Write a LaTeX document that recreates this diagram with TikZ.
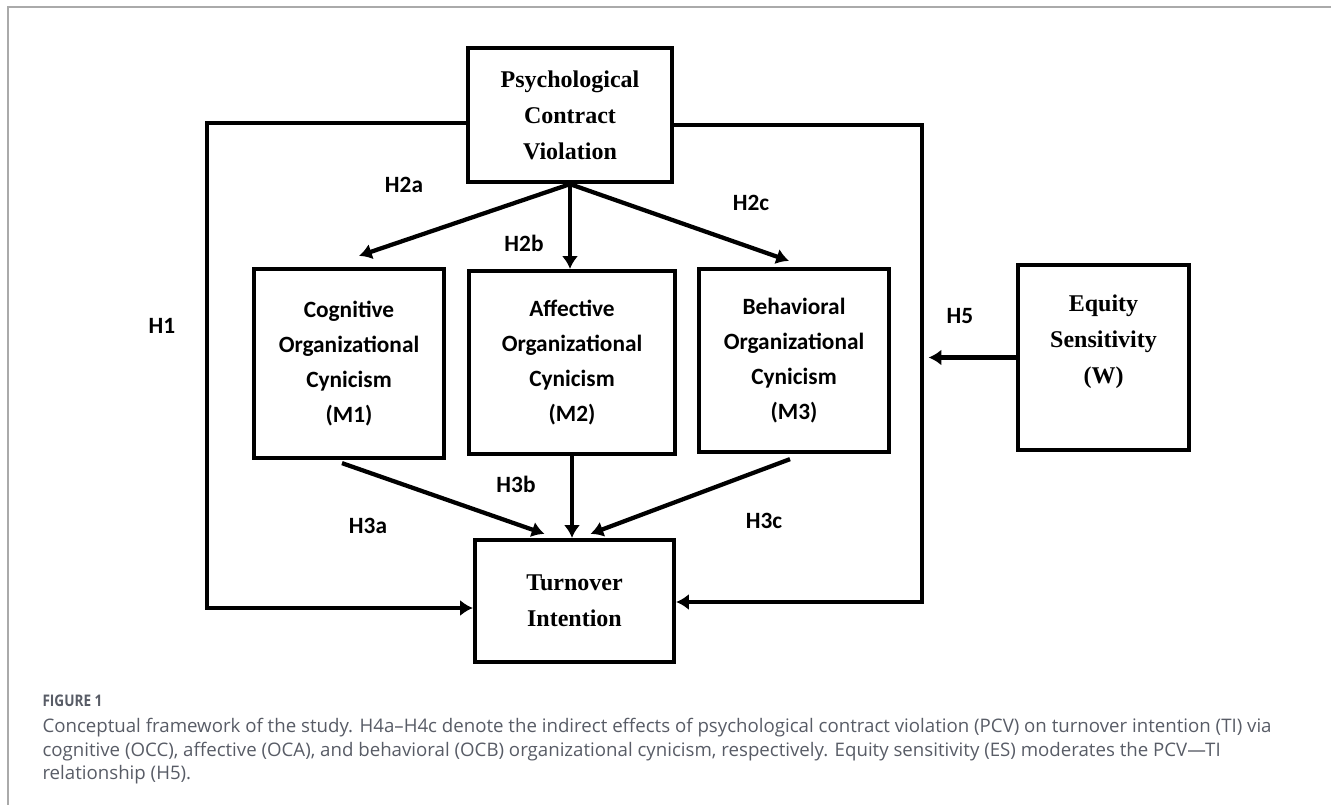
\documentclass[tikz,border=0pt]{standalone}
\usepackage{fontspec}
\setmainfont{Liberation Serif}
\newfontfamily\calfont{Carlito}
\newfontfamily\capfont{Open Sans}
\newfontfamily\figfont[FakeStretch=0.85]{Open Sans}
\usetikzlibrary{arrows.meta,calc}
\definecolor{framegray}{RGB}{170,170,170}
\definecolor{capgray}{RGB}{88,92,102}

\tikzset{every picture/.style={line width=0.75pt}}
\tikzset{
  serifbox/.style={draw, line width=3.2pt, align=center, inner sep=0pt, font=\bfseries\fontsize{18}{27}\selectfont},
  cynbox/.style={draw, line width=3.2pt, align=center, inner sep=0pt, font=\calfont\bfseries\fontsize{17.5}{26.25}\selectfont},
  hyp/.style={font=\calfont\bfseries\fontsize{17.5}{21}\selectfont, inner sep=0.75pt},
  arr/.style={line width=3.2pt, -{Latex[length=9.5pt,width=12pt]}},
  link/.style={line width=3.2pt}
}

\begin{document}
\begin{tikzpicture}[x=0.75pt,y=0.75pt,yscale=-1,xscale=1]
\useasboundingbox (0,0) rectangle (1331,805);

%Shape: Frame
\draw [framegray, line width=1.5pt] (8,7) rectangle (1345,820);

%Shape: Rectangle
\node [serifbox, minimum width=153pt, minimum height=100.5pt] (pcv) at (570,115) {Psychological\\Contract\\Violation};
%Shape: Rectangle
\node [cynbox, minimum width=142.5pt, minimum height=141.75pt] (m1) at (349,363.5) {Cognitive\\Organizational\\Cynicism\\(M1)};
%Shape: Rectangle
\node [cynbox, minimum width=154.5pt, minimum height=137.25pt] (m2) at (572,362.5) {Affective\\Organizational\\Cynicism\\(M2)};
%Shape: Rectangle
\node [cynbox, minimum width=142.5pt, minimum height=137.25pt] (m3) at (794,360.5) {Behavioral\\Organizational\\Cynicism\\(M3)};
%Shape: Rectangle
\node [serifbox, minimum width=149.25pt, minimum height=91.5pt] (ti) at (574.5,601) {Turnover\\Intention};
%Shape: Rectangle
\node [serifbox, minimum width=128.25pt, minimum height=138.75pt] (es) at (1103.5,357.5) {Equity\\Sensitivity\\(W)\\\mbox{}};

%Straight Lines
\draw [arr] (pcv.south) -- ($(m1.north)+(10,-11)$) ;
\draw [arr] (pcv.south) -- (pcv.south |- m2.north) ;
\draw [arr] (pcv.south) -- ($(m3.north)+(-5,-6)$) ;
%Straight Lines
\draw [arr] ($(m1.south)+(-7,3)$) -- ($(ti.north)+(-30,-4)$) ;
\draw [arr] (m2.south) -- (m2.south |- ti.north) ;
\draw [arr] ($(m3.south)+(-4,5)$) -- ($(ti.north)+(16,-4)$) ;

%Straight Lines
\coordinate (h1top) at (207,123);
\coordinate (h1bot) at (207,608);
\draw [arr] (pcv.west |- h1top) -- (h1top) -- (h1bot) -- (ti.west |- h1bot) ;
%Straight Lines
\coordinate (h5top) at (922,125);
\coordinate (h5bot) at (922,602);
\draw [arr] (pcv.east |- h5top) -- (h5top) -- (h5bot) -- (ti.east |- h5bot) ;
\draw [arr, shorten >=5pt] (es.west) -- (h5top |- es.west) ;

% Text Node
\node [hyp] (lh1) at (162,326) {H1};
% Text Node
\node [hyp] (lh2a) at (404,185) {H2a};
% Text Node
\node [hyp] (lh2b) at (524,243) {H2b};
% Text Node
\node [hyp] (lh2c) at (751,203) {H2c};
% Text Node
\node [hyp] (lh3a) at (368,526) {H3a};
% Text Node
\node [hyp] (lh3b) at (516,484) {H3b};
% Text Node
\node [hyp] (lh3c) at (764,521) {H3c};
% Text Node
\node [hyp] (lh5) at (960,316) {H5};

% Text Node
\node [anchor=west, inner sep=0pt, text=capgray, font=\figfont\bfseries\fontsize{12}{14}\selectfont] (figlabel) at (42,701) {FIGURE 1};
% Text Node
\node [anchor=north west, inner sep=0pt, align=left, text=capgray, font=\capfont\fontsize{14}{17.5}\selectfont] (caption) at (42,718) {Conceptual framework of the study. H4a–H4c denote the indirect effects of psychological contract violation (PCV) on turnover intention (TI) via\\cognitive (OCC), affective (OCA), and behavioral (OCB) organizational cynicism, respectively. Equity sensitivity (ES) moderates the PCV—TI\\relationship (H5).};

\end{tikzpicture}
\end{document}
